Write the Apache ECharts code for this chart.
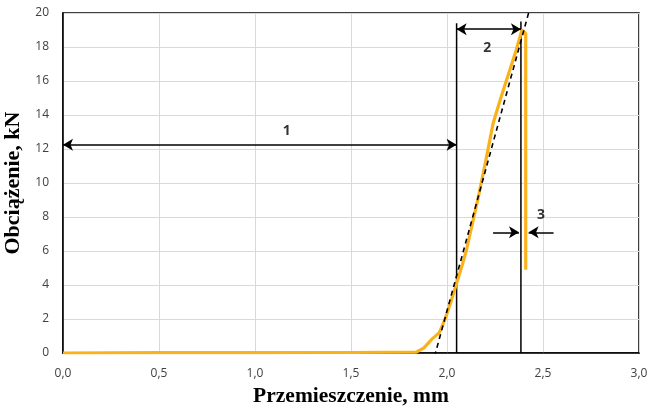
<!DOCTYPE html>
<html><head><meta charset="utf-8">
<script src="https://cdn.jsdelivr.net/npm/echarts@6/dist/echarts.min.js"></script>
<style>html,body{margin:0;padding:0;background:#fff}#c{width:647px;height:409px}</style>
</head><body><div id="c"></div>
<script>
// Curve data: displacement (mm) and load (kN)
const displacement = [0, 0.5, 1.0, 1.5, 1.84, 1.88, 1.92, 1.96, 1.99, 2.02, 2.05, 2.08, 2.10, 2.13, 2.16, 2.20, 2.24, 2.28, 2.32, 2.36, 2.39, 2.41, 2.41];
const load =         [0, 0.02, 0.02, 0.03, 0.05, 0.3, 0.8, 1.2, 2.0, 3.0, 4.1, 5.2, 6.0, 7.5, 9.0, 11.2, 13.5, 15.0, 16.4, 17.8, 19.0, 18.8, 4.9];
// Dashed tangent line
const tangentX = [1.935, 2.425];
const tangentY = [-0.2, 20];
// Vertical marker lines
const vLineX = [2.05, 2.385];
const vLineTop = [19.4, 19.5];
// Dimension arrows [x1, y1, x2, y2]
const arrow1 = [0, 12.25, 2.05, 12.25];
const arrow2 = [2.05, 19.05, 2.385, 19.05];
const arrow3a = [2.24, 7.1, 2.375, 7.1];
const arrow3b = [2.555, 7.1, 2.425, 7.1];
// Labels
const labelText = ['1', '2', '3'];
const labelX = [1.165, 2.21, 2.49];
const labelY = [13.05, 17.95, 8.1];

const chart = echarts.init(document.getElementById('c'));
const curve = displacement.map((x, i) => [x, load[i]]);
const arrowLine = a => [{coord: [a[0], a[1]]}, {coord: [a[2], a[3]]}];
chart.setOption({
  animation: false,
  grid: {left: 63, right: 8, top: 13, bottom: 56, show: true, borderColor: '#000', borderWidth: 1.5,
    containLabel: false, outerBoundsMode: 'none'},
  xAxis: {
    type: 'value', min: 0, max: 3, interval: 0.5,
    name: 'Przemieszczenie, mm', nameLocation: 'middle', nameGap: 32,
    nameTextStyle: {fontFamily: 'Liberation Serif', fontWeight: 'bold', fontSize: 21.5, color: '#000'},
    axisLine: {show: true, onZero: false, lineStyle: {color: '#000', width: 1.5}},
    axisTick: {show: false},
    axisLabel: {color: '#404040', fontFamily: 'Open Sans', fontSize: 12, margin: 15,
      formatter: v => v.toFixed(1).replace('.', ',')},
    splitLine: {show: true, lineStyle: {color: '#d9d9d9', width: 1}}
  },
  yAxis: {
    type: 'value', min: 0, max: 20, interval: 2,
    name: 'Obciążenie, kN', nameLocation: 'middle', nameGap: 32,
    nameTextStyle: {fontFamily: 'Liberation Serif', fontWeight: 'bold', fontSize: 22, color: '#000'},
    axisLine: {show: true, lineStyle: {color: '#000', width: 1.5}},
    axisTick: {show: false},
    axisLabel: {color: '#404040', fontFamily: 'Open Sans', fontSize: 12, margin: 14},
    splitLine: {show: true, lineStyle: {color: '#d9d9d9', width: 1}}
  },
  series: [
    {type: 'line', data: [[vLineX[0], 0], [vLineX[0], vLineTop[0]]],
      showSymbol: false, lineStyle: {color: '#000', width: 1.5}, z: 3},
    {type: 'line', data: [[vLineX[1], 0], [vLineX[1], vLineTop[1]]],
      showSymbol: false, lineStyle: {color: '#000', width: 1.5}, z: 3},
    {type: 'line', data: curve, showSymbol: false,
      lineStyle: {color: '#F9B21B', width: 3.2}, z: 4},
    {type: 'line', data: tangentX.map((x, i) => [x, tangentY[i]]), showSymbol: false,
      lineStyle: {color: '#000', width: 1.6, type: [5, 4]}, z: 5},
    {type: 'line', data: [], markLine: {
      silent: true, symbol: ['arrow', 'arrow'], symbolSize: [9, 10],
      lineStyle: {color: '#000', width: 1.5, type: 'solid'}, label: {show: false},
      data: [arrowLine(arrow1), arrowLine(arrow2)]
    }},
    {type: 'line', data: [], markLine: {
      silent: true, symbol: ['none', 'arrow'], symbolSize: [9, 10],
      lineStyle: {color: '#000', width: 1.5, type: 'solid'}, label: {show: false},
      data: [arrowLine(arrow3a), arrowLine(arrow3b)]
    }},
    {type: 'scatter', symbolSize: 0, data: labelX.map((x, i) => ({value: [x, labelY[i]], name: labelText[i]})),
      label: {show: true, position: 'inside', formatter: p => p.name,
        fontFamily: 'Open Sans', fontWeight: 'bold', fontSize: 14, color: '#000'}, z: 6}
  ]
});
</script></body></html>
